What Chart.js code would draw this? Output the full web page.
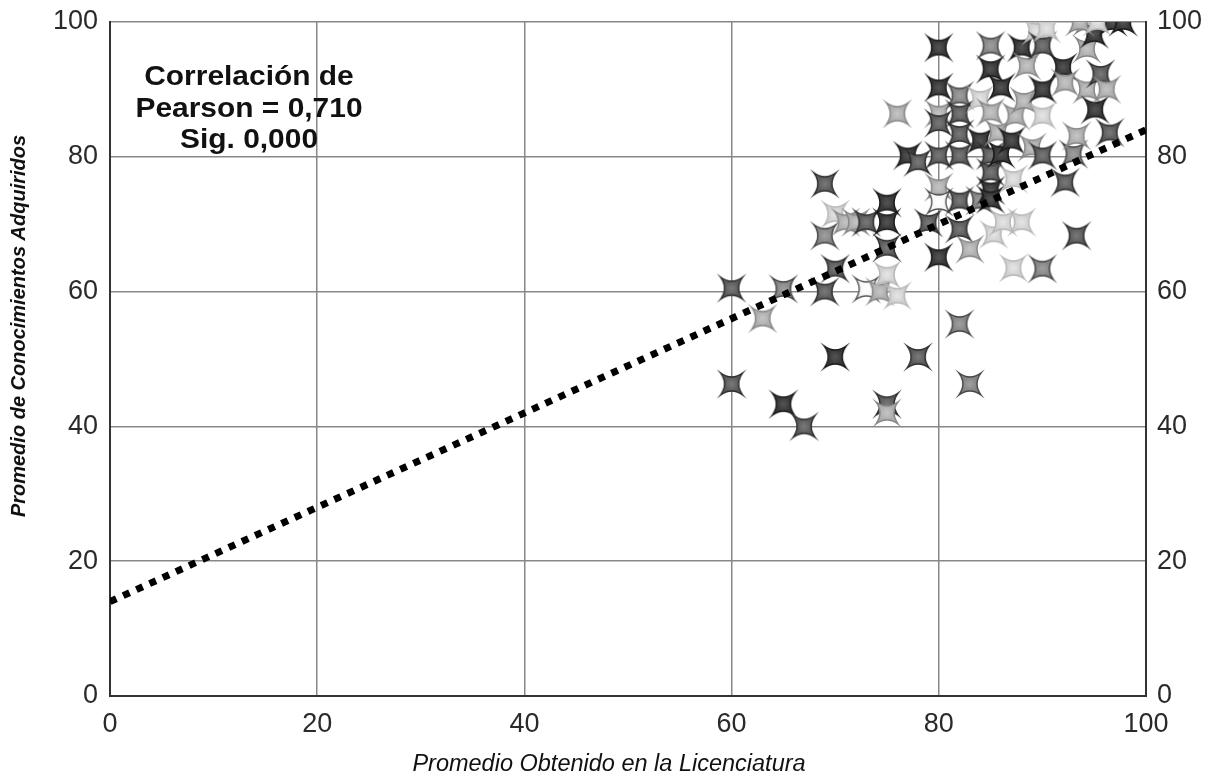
<!DOCTYPE html>
<html>
<head>
<meta charset="utf-8">
<script src="https://cdn.jsdelivr.net/npm/chart.js@4.4.0/dist/chart.umd.min.js"></script>
<style>
  html, body { margin: 0; padding: 0; background: #fff; }
  #chart { display: block; }
</style>
</head>
<body>
<canvas id="chart" width="1216" height="779"></canvas>
<script>
// axis ticks
const xTicks = [0, 20, 40, 60, 80, 100];
const yTicks = [0, 20, 40, 60, 80, 100];

// promedio de licenciatura (x) vs conocimientos adquiridos (y), one entry per student
const licenciatura = [
  60, 60, 63, 65, 65, 67, 69, 69, 69, 70,
  70, 70, 71, 72, 73, 73, 74.3, 75, 76, 75,
  75, 75, 75, 75, 76, 77, 78, 78, 79, 80,
  80, 80, 80, 80, 80, 80, 80, 82, 82, 82,
  82, 82, 82, 82, 83, 83, 84, 84, 84, 85,
  85, 85, 85, 85, 85, 85, 85.3, 86, 86, 86.2,
  85.7, 87, 87.4, 87.2, 87.2, 88, 88, 88.5, 88.2, 89.4,
  89, 90, 90, 90, 90, 90, 92, 92.2, 92.2, 93,
  93.3, 93.3, 94.3, 94.3, 94.3, 95.1, 95, 95.6, 96.2, 96.5,
  96.8, 97.8, 93.6, 95.3, 90.4
];
const conocimientos = [
  60.5, 46.3, 56, 60.4, 43.3, 40, 76, 68.3, 60, 63.4,
  50.3, 71.5, 70.3, 70.3, 70.3, 60.4, 60, 62.5, 59.4, 73.2,
  70.3, 66.5, 43.3, 42, 86.4, 80.2, 79.2, 50.3, 70.2, 96.2,
  90.3, 86.4, 85, 80.2, 75.5, 73.3, 65.1, 89.1, 86.4, 83.4,
  80.2, 73.5, 69.3, 55.2, 46.3, 66.3, 82.4, 73.5, 88.6, 96.5,
  93, 86.6, 80.2, 77.7, 75, 73.7, 68.5, 90.3, 80.4, 70.3,
  83.6, 82.4, 86.1, 76.7, 63.5, 96.2, 70.3, 93.5, 88.3, 98.7,
  81.4, 96.5, 90, 86.1, 80.2, 63.4, 93.3, 91, 76.2, 80.4,
  68.3, 83.1, 100, 96, 90, 87, 98.2, 92.3, 90, 83.6,
  100, 100, 100, 100, 99
];
// gray tone of each star: d dark, m medium, g gray, l light, v very light, w white
const tono = [
  'm', 'm', 'l', 'g', 'd', 'm', 'm', 'g', 'm', 'm',
  'd', 'v', 'l', 'l', 'm', 'w', 'l', 'v', 'v', 'd',
  'd', 'm', 'm', 'l', 'l', 'd', 'm', 'm', 'm', 'd',
  'd', 'l', 'm', 'm', 'l', 'w', 'd', 'g', 'm', 'm',
  'm', 'm', 'm', 'g', 'g', 'l', 'd', 'g', 'v', 'g',
  'd', 'l', 'm', 'm', 'd', 'd', 'v', 'd', 'd', 'v',
  'l', 'd', 'l', 'v', 'v', 'd', 'v', 'l', 'l', 'v',
  'l', 'm', 'd', 'v', 'm', 'g', 'd', 'l', 'm', 'g',
  'm', 'l', 'l', 'l', 'l', 'd', 'd', 'm', 'l', 'm',
  'd', 'd', 'l', 'v', 'v'
];

// regression line
const trendX = [0, 100];
const trendY = [14, 84];

const pearsonLines = ['Correlación de', 'Pearson = 0,710', 'Sig. 0,000'];
const xTitle = 'Promedio Obtenido en la Licenciatura';
const yTitle = 'Promedio de Conocimientos Adquiridos';

const FONT = '"Liberation Sans", Arial, Helvetica, sans-serif';

const palette = {
  d: ['#363636', '#1a1a1a', '#555'],
  m: ['#5a5a5a', '#2e2e2e', '#7a7a7a'],
  g: ['#848484', '#464646', '#a0a0a0'],
  l: ['#acacac', '#868686', '#c6c6c6'],
  v: ['#d0d0d0', '#b6b6b6', '#e6e6e6'],
  w: ['#f6f6f6', '#555', '#ffffff']
};

// four-pointed star with concave sides, tips on the diagonals
function makeStar(fill, stroke, centre) {
  const c = document.createElement('canvas');
  c.width = 36; c.height = 36;
  const g = c.getContext('2d');
  const o = 18, R = 16, r = 2.8;
  g.beginPath();
  for (let k = 0; k < 4; k++) {
    const a = Math.PI / 4 + k * Math.PI / 2;
    if (k === 0) g.moveTo(o + R * Math.cos(a), o + R * Math.sin(a));
    const b = a + Math.PI / 4;
    const n = a + Math.PI / 2;
    g.quadraticCurveTo(o + r * Math.cos(b), o + r * Math.sin(b),
                       o + R * Math.cos(n), o + R * Math.sin(n));
  }
  g.closePath();
  const grad = g.createRadialGradient(o, o, 0, o, o, R);
  grad.addColorStop(0, centre);
  grad.addColorStop(0.5, fill);
  grad.addColorStop(1, fill);
  g.fillStyle = grad;
  g.fill();
  g.lineWidth = 1.4;
  g.strokeStyle = stroke;
  g.stroke();
  return c;
}

const stars = {};
for (const k in palette) stars[k] = makeStar(palette[k][0], palette[k][1], palette[k][2]);

const points = licenciatura.map((x, i) => ({ x: x, y: conocimientos[i] }));
const trend = trendX.map((x, i) => ({ x: x, y: trendY[i] }));

const textPlugin = {
  id: 'textPlugin',
  beforeDatasetsDraw(chart) {
    const ctx = chart.ctx;
    ctx.save();
    ctx.fillStyle = '#111';
    ctx.font = 'bold 28.5px ' + FONT;
    ctx.textAlign = 'center';
    ctx.textBaseline = 'alphabetic';
    const base = [85, 117, 148];
    pearsonLines.forEach((t, i) => {
      ctx.save();
      ctx.translate(249, base[i]);
      ctx.scale(1.05, 1);
      ctx.fillText(t, 0, 0);
      ctx.restore();
    });
    ctx.restore();
  },
  afterDraw(chart) {
    const ctx = chart.ctx;
    ctx.save();
    ctx.fillStyle = '#111';
    ctx.textAlign = 'center';
    ctx.textBaseline = 'alphabetic';
    ctx.font = 'italic 23.5px ' + FONT;
    ctx.fillText(xTitle, 609, 771);
    ctx.translate(25, 326);
    ctx.rotate(-Math.PI / 2);
    ctx.font = 'italic bold 20px ' + FONT;
    ctx.fillText(yTitle, 0, 0);
    ctx.restore();
  }
};

const tickFont = { family: FONT, size: 27 };

// fixed axis box sizes, no extra room for overhanging labels
function fitY(width) {
  return s => { s.width = width; s.paddingTop = 0; s.paddingBottom = 0; };
}

new Chart(document.getElementById('chart'), {
  type: 'scatter',
  data: {
    datasets: [
      {
        type: 'line',
        data: trend,
        borderColor: '#000',
        borderWidth: 7,
        borderDash: [7, 7.5],
        borderCapStyle: 'butt',
        pointRadius: 0,
        fill: false,
        order: 0
      },
      {
        data: points,
        pointStyle: tono.map(t => stars[t]),
        pointRadius: 14,
        pointHoverRadius: 14,
        order: 1
      }
    ]
  },
  options: {
    responsive: false,
    animation: false,
    events: [],
    layout: { padding: { top: 22, left: 0, right: 0, bottom: 0 } },
    plugins: { legend: { display: false }, tooltip: { enabled: false } },
    scales: {
      x: {
        type: 'linear',
        position: 'bottom',
        min: 0,
        max: 100,
        afterBuildTicks: s => { s.ticks = xTicks.map(v => ({ value: v })); },
        afterFit: s => { s.height = 83; s.paddingLeft = 0; s.paddingRight = 0; },
        ticks: { font: tickFont, color: '#2a2a2a', padding: 12, maxRotation: 0 },
        grid: { color: '#888', lineWidth: 1.5, drawTicks: false },
        border: { color: '#333', width: 2 }
      },
      y: {
        type: 'linear',
        position: 'left',
        min: 0,
        max: 100,
        afterBuildTicks: s => { s.ticks = yTicks.map(v => ({ value: v })); },
        afterFit: fitY(110),
        ticks: { font: tickFont, color: '#2a2a2a', padding: 12 },
        grid: { color: '#888', lineWidth: 1.5, drawTicks: false },
        border: { color: '#333', width: 2 }
      },
      y2: {
        type: 'linear',
        position: 'right',
        min: 0,
        max: 100,
        afterBuildTicks: s => { s.ticks = yTicks.map(v => ({ value: v })); },
        afterFit: fitY(70),
        ticks: { font: tickFont, color: '#2a2a2a', padding: 11 },
        grid: { display: false, drawTicks: false },
        border: { color: '#333', width: 2 }
      }
    }
  },
  plugins: [textPlugin]
});
</script>
</body>
</html>
